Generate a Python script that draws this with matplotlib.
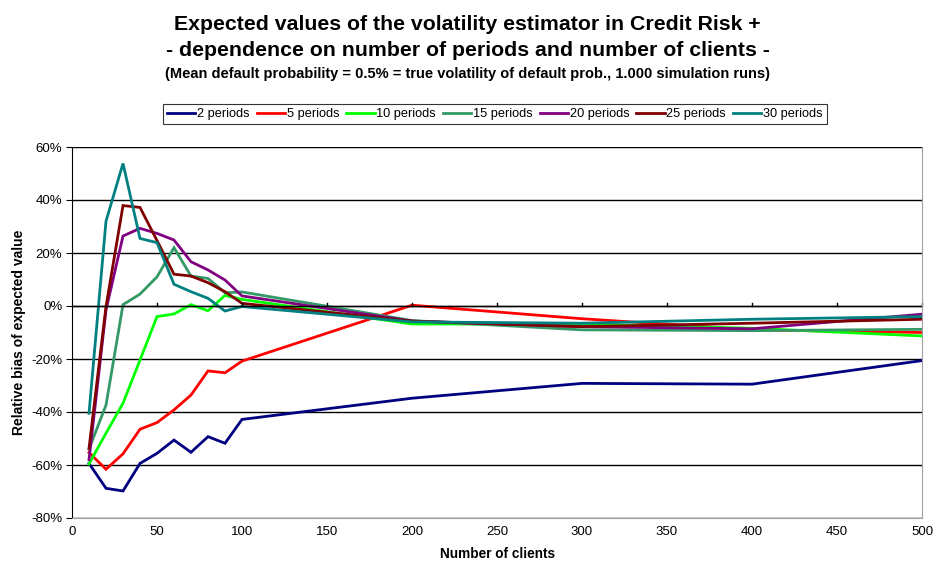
import matplotlib
matplotlib.use("Agg")
import matplotlib.pyplot as plt
from matplotlib.ticker import FuncFormatter, MultipleLocator

plt.rcParams['font.family'] = ['Liberation Sans', 'DejaVu Sans']

clients = [10, 20, 30, 40, 50, 60, 70, 80, 90, 100, 200, 300, 400, 500]

p2 = [-59.4, -68.8, -69.8, -59.4, -55.6, -50.6, -55.2, -49.3, -51.8, -42.8, -34.8, -29.2, -29.5, -20.6]
p5 = [-55.3, -61.6, -55.8, -46.5, -44.0, -39.2, -33.6, -24.5, -25.2, -20.8, 0.3, -4.8, -9.0, -10.0]
p10 = [-59.6, -48.0, -36.7, -20.4, -4.0, -3.0, 0.5, -1.8, 4.0, 2.5, -6.8, -6.8, -8.4, -11.3]
p15 = [-54.0, -37.4, 0.5, 4.5, 11.0, 22.0, 11.3, 10.4, 5.0, 5.3, -5.5, -9.0, -9.3, -8.8]
p20 = [-58.0, -1.5, 26.4, 29.3, 27.4, 24.9, 16.7, 13.6, 9.8, 3.8, -5.7, -7.8, -8.6, -3.1]
p25 = [-53.7, -0.2, 37.9, 37.2, 24.7, 12.0, 11.3, 8.8, 5.4, 1.0, -5.7, -7.8, -6.5, -5.0]
p30 = [-40.5, 32.0, 53.8, 25.5, 23.9, 8.2, 5.4, 2.9, -1.9, -0.2, -6.0, -6.5, -5.0, -4.0]

series = [
    ("2 periods", p2, "#000080"),
    ("5 periods", p5, "#ff0000"),
    ("10 periods", p10, "#00ff00"),
    ("15 periods", p15, "#339966"),
    ("20 periods", p20, "#800080"),
    ("25 periods", p25, "#800000"),
    ("30 periods", p30, "#008080"),
]

fig = plt.figure(figsize=(9.35, 5.67), dpi=100)
ax = fig.add_axes([72/935, 1-518/567, (922-72)/935, (518-147)/567])

for lab, vals, col in series:
    ax.plot(clients, vals, color=col, lw=2.0, label=lab, solid_joinstyle='miter')

ax.set_xlim(0, 500)
ax.set_ylim(-80, 60)
ax.yaxis.set_major_locator(MultipleLocator(20))
ax.xaxis.set_major_locator(MultipleLocator(50))
ax.yaxis.set_major_formatter(FuncFormatter(lambda v, p: f"{v:.0f}%"))
ax.grid(axis='y', color='black', lw=1.0)
ax.set_axisbelow(True)
ax.spines['top'].set_visible(False)
ax.spines['right'].set_color('#a0a0a0')
ax.spines['bottom'].set_color('#a0a0a0')
ax.spines['left'].set_color('black')
ax.tick_params(axis='y', direction='out', length=4, labelsize=9.5, colors='black', pad=3)
ax.tick_params(axis='x', length=0, labelsize=9.5, pad=6)
# x-axis line crossing at 0% with upward tick marks
ax.axhline(0, color='black', lw=1.0)
for xv in range(50, 501, 50):
    ax.plot([xv, xv], [0, 1.2], color='black', lw=1.0, clip_on=False)

ax.set_xlabel("Number of clients", fontsize=9.8, fontweight='bold', labelpad=6)
ax.set_ylabel("Relative bias of expected value", fontsize=10, fontweight='bold', labelpad=4)

fig.text(0.5, 1-24/567, "Expected values of the volatility estimator in Credit Risk +",
         ha='center', va='center', fontsize=15.3, fontweight='bold')
fig.text(0.5, 1-50/567, "- dependence on number of periods and number of clients -",
         ha='center', va='center', fontsize=15.3, fontweight='bold')
fig.text(0.5, 1-74/567, "(Mean default probability = 0.5% = true volatility of default prob., 1.000 simulation runs)",
         ha='center', va='center', fontsize=10.5, fontweight='bold')

leg = ax.legend(loc='center', bbox_to_anchor=(495/935, 1-114/567), bbox_transform=fig.transFigure,
                ncol=7, fontsize=9.2, frameon=True, fancybox=False, edgecolor='black',
                handlelength=2.2, handletextpad=0.15, columnspacing=0.55, borderpad=0.3)
leg.get_frame().set_linewidth(0.8)

fig.savefig("out.png", dpi=100, facecolor='white')
